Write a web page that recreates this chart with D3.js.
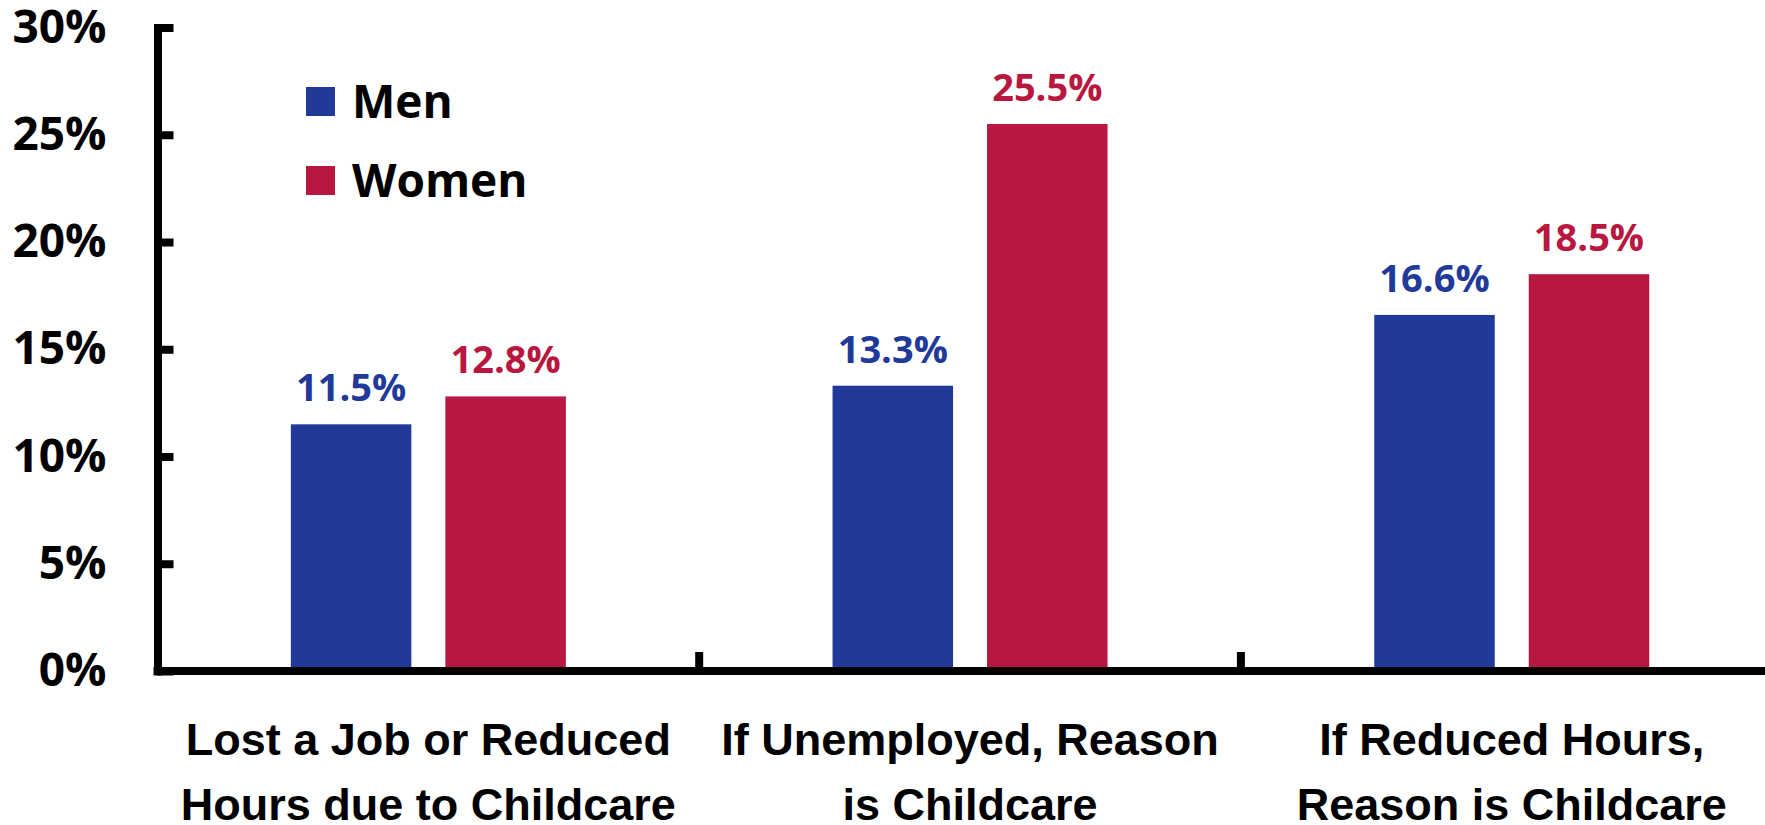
<!DOCTYPE html>
<html>
<head>
<meta charset="utf-8">
<script src="https://cdn.jsdelivr.net/npm/d3@7"></script>
<style>
  body { margin: 0; background: #fff; }
  svg { display: block; font-family: "Open Sans", "DejaVu Sans", sans-serif; font-weight: 700; }
</style>
</head>
<body>
<div class="chart"></div>
<script>
// data
const categoryLines = [
  ['Lost a Job or Reduced', 'Hours due to Childcare'],
  ['If Unemployed, Reason', 'is Childcare'],
  ['If Reduced Hours,', 'Reason is Childcare']
];
const categories = categoryLines.map(d => d.join(' '));
const seriesNames = ['Men', 'Women'];
const menValues = [11.5, 13.3, 16.6];
const womenValues = [12.8, 25.5, 18.5];
const yTicks = [0, 5, 10, 15, 20, 25, 30];
const seriesColors = ['#213A99', '#B8173F'];

// rows for the grouped bars
const rows = categories.map((c, i) => ({
  category: c,
  values: [
    { name: seriesNames[0], value: menValues[i] },
    { name: seriesNames[1], value: womenValues[i] }
  ]
}));

const width = 1765, height = 825;
const axisX = 157.5, axisY = 671, topY = 27.5;
const bandW = 541.7;

const svg = d3.select('.chart').append('svg')
  .attr('width', width).attr('height', height);

// scales
const x0 = d3.scaleBand().domain(categories).range([axisX, axisX + bandW * categories.length]);
const x1 = d3.scaleBand().domain(seriesNames)
  .range([bandW / 2 - 137.5, bandW / 2 + 137.5]).paddingInner(0.22);
const y = d3.scaleLinear().domain([0, 30]).range([axisY, topY]);
const color = d3.scaleOrdinal().domain(seriesNames).range(seriesColors);

// bars
const groups = svg.append('g').attr('class', 'bars')
  .selectAll('g').data(rows).enter()
  .append('g').attr('transform', d => `translate(${x0(d.category)},0)`);

groups.selectAll('rect').data(d => d.values).enter()
  .append('rect')
  .attr('x', d => x1(d.name))
  .attr('width', x1.bandwidth())
  .attr('y', d => y(d.value))
  .attr('height', d => y(0) - y(d.value))
  .style('fill', d => color(d.name));

// value labels
groups.selectAll('.value-label').data(d => d.values).enter()
  .append('text').attr('class', 'value-label')
  .attr('x', d => x1(d.name) + x1.bandwidth() / 2)
  .attr('y', d => y(d.value) - 23)
  .attr('text-anchor', 'middle')
  .style('font-size', '38px')
  .style('fill', d => color(d.name))
  .text(d => d.value.toFixed(1) + '%');

// y axis
const yAxis = d3.axisLeft(y).tickValues(yTicks).tickFormat(d => d + '%')
  .tickSizeInner(-16).tickSizeOuter(0).tickPadding(51);
const yAxisG = svg.append('g').attr('class', 'y axis')
  .attr('transform', `translate(${axisX},0)`).call(yAxis);
yAxisG.select('.domain').attr('stroke', '#000').attr('stroke-width', 8).attr('stroke-linecap', 'square');
yAxisG.selectAll('.tick line').attr('stroke', '#000').attr('stroke-width', 8);
yAxisG.selectAll('.tick text')
  .style('font-size', '46px').style('font-family', '"Open Sans", sans-serif')
  .style('font-weight', 700).attr('fill', '#000');

// x axis: baseline, boundary ticks, two-line labels
const xAxis = d3.axisBottom(x0).tickSize(0).tickSizeOuter(0).tickFormat('');
const xAxisG = svg.append('g').attr('class', 'x axis')
  .attr('transform', `translate(0,${axisY})`).call(xAxis);
xAxisG.select('.domain').attr('stroke', '#000').attr('stroke-width', 8)
  .attr('d', `M${axisX - 4},0H${width + 40}`);

xAxisG.selectAll('.boundary').data(categories.slice(1)).enter()
  .append('line').attr('class', 'boundary')
  .attr('x1', d => x0(d)).attr('x2', d => x0(d))
  .attr('y1', 0).attr('y2', -19)
  .attr('stroke', '#000').attr('stroke-width', 8);

const catLabels = xAxisG.selectAll('.cat-label').data(categories).enter()
  .append('text').attr('class', 'cat-label')
  .attr('text-anchor', 'middle')
  .style('font-size', '45px').attr('fill', '#000');
catLabels.selectAll('tspan').data((d, i) => categoryLines[i].map(t => ({ t, c: d }))).enter()
  .append('tspan')
  .attr('x', d => x0(d.c) + x0.bandwidth() / 2)
  .attr('y', (d, i) => 84 + i * 65)
  .text(d => d.t);

// legend
const legend = svg.append('g').attr('class', 'legend').attr('transform', 'translate(306,87)');
const legendItem = legend.selectAll('g').data(seriesNames).enter()
  .append('g').attr('transform', (d, i) => `translate(0,${i * 79})`);
legendItem.append('rect').attr('width', 29).attr('height', 29).style('fill', d => color(d));
legendItem.append('text').attr('x', 46).attr('y', 31)
  .style('font-size', '46px').attr('fill', '#000').text(d => d);
</script>
</body>
</html>
